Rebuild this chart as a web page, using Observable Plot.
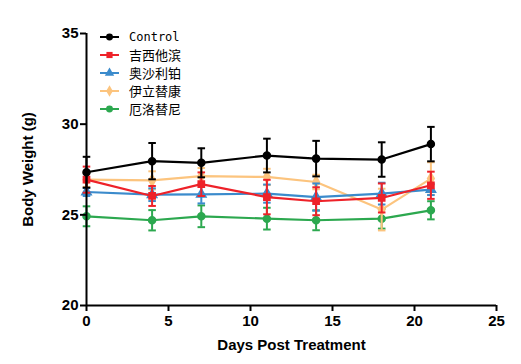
<!DOCTYPE html>
<html><head><meta charset="utf-8">
<script src="https://cdn.jsdelivr.net/npm/d3@7"></script>
<script src="https://cdn.jsdelivr.net/npm/@observablehq/plot@0.6"></script>
<style>
body{margin:0;background:#fff;}
#chart{position:relative;width:521px;height:364px;}
svg{font-family:"Liberation Sans",Arial,sans-serif;}
</style></head>
<body><div id="chart"></div>
<script>
const days = [0, 4, 7, 11, 14, 18, 21];
const seriesNames = ["Control", "吉西他滨", "奥沙利铂", "伊立替康", "厄洛替尼"];
const colors = ["#000000", "#ee2229", "#3b8bcc", "#fcc47e", "#2ca84f"];
const symbols = ["circle", "square", "triangle", "diamond", "circle"];
const controlMean = [27.35, 27.96, 27.87, 28.27, 28.1, 28.05, 28.9];
const controlErr  = [0.85, 1.0, 0.8, 0.93, 0.98, 0.95, 0.95];
const gemMean = [26.94, 26.04, 26.69, 25.98, 25.75, 25.93, 26.63];
const gemErr  = [0.72, 0.55, 0.65, 0.95, 0.77, 0.8, 0.75];
const oxaMean = [26.26, 26.11, 26.13, 26.17, 25.98, 26.17, 26.39];
const oxaErr  = [0.22, 0.35, 0.5, 0.5, 0.75, 0.6, 0.3];
const iriMean = [26.94, 26.9, 27.13, 27.09, 26.81, 25.29, 27.0];
const iriErr  = [0.4, 0.5, 0.45, 0.45, 0.4, 1.15, 0.9];
const erlMean = [24.92, 24.7, 24.92, 24.79, 24.7, 24.79, 25.25];
const erlErr  = [0.55, 0.56, 0.6, 0.6, 0.55, 0.55, 0.5];
const xTicks = [0, 5, 10, 15, 20, 25];
const yTicks = [20, 25, 30, 35];

const means = [controlMean, gemMean, oxaMean, iriMean, erlMean];
const errs = [controlErr, gemErr, oxaErr, iriErr, erlErr];
const drawOrder = [4, 3, 2, 1, 0];
const rows = [];
drawOrder.forEach(s => days.forEach((d, i) => rows.push({
  series: seriesNames[s], order: s, day: d, mean: means[s][i], err: errs[s][i]
})));

const marks = [];
drawOrder.forEach(s => {
  const data = rows.filter(r => r.order === s);
  const c = colors[s];
  marks.push(
    Plot.ruleX(data, {x: "day", y1: d => d.mean - d.err, y2: d => d.mean + d.err, stroke: c, strokeWidth: 2}),
    Plot.link(data, {x1: d => d.day - 0.23, x2: d => d.day + 0.23, y1: d => d.mean + d.err, y2: d => d.mean + d.err, stroke: c, strokeWidth: 2}),
    Plot.link(data, {x1: d => d.day - 0.23, x2: d => d.day + 0.23, y1: d => d.mean - d.err, y2: d => d.mean - d.err, stroke: c, strokeWidth: 2}),
    Plot.line(data, {x: "day", y: "mean", stroke: c, strokeWidth: 2.2}),
    Plot.dot(data, {x: "day", y: "mean", fill: c, stroke: c, symbol: () => symbols[s], r: 3.5})
  );
});

const plot = Plot.plot({
  width: 521, height: 364,
  marginLeft: 86, marginRight: 25, marginTop: 33, marginBottom: 59,
  x: {domain: [0, 25]},
  y: {domain: [20, 35]},
  style: {fontFamily: '"Liberation Sans", Arial, sans-serif', background: "#fff"},
  marks: [
    ...marks,
    Plot.ruleY([20], {stroke: "#000", strokeWidth: 2}),
    Plot.ruleX([0], {stroke: "#000", strokeWidth: 2}),
    Plot.axisX({ticks: xTicks, tickSize: 6, tickPadding: 4, strokeWidth: 2, fontSize: 15, fontWeight: "bold", color: "#000",
      label: "Days Post Treatment", labelAnchor: "center", labelOffset: 44, labelArrow: "none"}),
    Plot.axisY({ticks: yTicks, tickSize: 6, tickPadding: 2, strokeWidth: 2, fontSize: 15, fontWeight: "bold", color: "#000",
      label: "Body Weight (g)", labelAnchor: "center", labelOffset: 64, labelArrow: "none"})
  ]
});
document.getElementById("chart").appendChild(plot);

d3.select(plot).selectAll("g[aria-label='x-axis label'] text, g[aria-label='y-axis label'] text")
  .style("font-size", "15px").style("font-weight", "bold");

// legend
const svg = d3.select(plot);
const lg = svg.append("g").attr("transform", "translate(100,37)").attr("text-anchor", "start");
seriesNames.forEach((name, i) => {
  const g = lg.append("g").attr("transform", `translate(0,${i * 18})`);
  g.append("line").attr("x1", 0).attr("x2", 19).attr("stroke", colors[i]).attr("stroke-width", 2);
  g.append("path").attr("d", d3.symbol(d3["symbol" + symbols[i][0].toUpperCase() + symbols[i].slice(1)], 38)())
    .attr("transform", "translate(9.5,0)").attr("fill", colors[i]);
  g.append("text").attr("x", 29).attr("y", 0).attr("dy", "0.35em").attr("text-anchor", "start")
    .style("font-family", i === 0 ? '"DejaVu Sans Mono", monospace' : '"Noto Sans CJK SC", sans-serif')
    .style("font-size", i === 0 ? "12px" : "13px").attr("fill", "#000").text(name);
});
</script></body></html>
